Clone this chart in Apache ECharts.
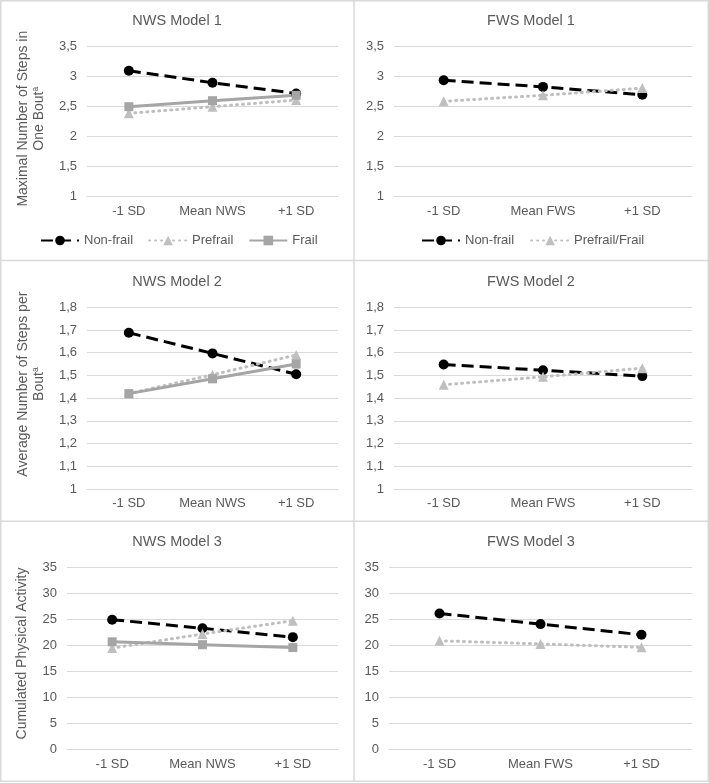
<!DOCTYPE html>
<html>
<head>
<meta charset="utf-8">
<script src="https://cdn.jsdelivr.net/npm/echarts@6/dist/echarts.min.js"></script>
<style>
html,body{margin:0;padding:0;background:#fff;}
#c{width:709px;height:783px;}
</style>
</head>
<body>
<div id="c"></div>
<script>
// ---- data ----
const categoriesNWS = ['-1 SD', 'Mean NWS', '+1 SD'];
const categoriesFWS = ['-1 SD', 'Mean FWS', '+1 SD'];
const panelTitles = ['NWS Model 1', 'FWS Model 1', 'NWS Model 2', 'FWS Model 2', 'NWS Model 3', 'FWS Model 3'];

const nws1NonFrail = [3.1, 2.9, 2.72];
const nws1Prefrail = [2.39, 2.5, 2.61];
const nws1Frail = [2.5, 2.6, 2.69];
const fws1NonFrail = [2.94, 2.83, 2.7];
const fws1PrefrailFrail = [2.59, 2.69, 2.81];

const nws2NonFrail = [1.688, 1.597, 1.505];
const nws2Prefrail = [1.42, 1.503, 1.59];
const nws2Frail = [1.42, 1.485, 1.55];
const fws2NonFrail = [1.548, 1.523, 1.497];
const fws2PrefrailFrail = [1.459, 1.494, 1.532];

const nws3NonFrail = [24.95, 23.3, 21.6];
const nws3Prefrail = [19.5, 22.2, 24.75];
const nws3Frail = [20.7, 20.15, 19.6];
const fws3NonFrail = [26.15, 24.1, 22.05];
const fws3PrefrailFrail = [20.9, 20.3, 19.65];

const yTicksModel1 = {min: 1, max: 3.5, interval: 0.5};
const yTicksModel2 = {min: 1, max: 1.8, interval: 0.1};
const yTicksModel3 = {min: 0, max: 35, interval: 5};

// ---- styles ----
const FONT = 'Liberation Sans, Arial, sans-serif';
const TXT = '#595959';
const GRIDC = '#d9d9d9';

const grids = [
  {left: 87, top: 46.7, width: 251, height: 150},
  {left: 394, top: 46.7, width: 298, height: 150},
  {left: 87, top: 307.3, width: 251, height: 181.7},
  {left: 394, top: 307.3, width: 298, height: 181.7},
  {left: 67, top: 567.3, width: 271, height: 182.4},
  {left: 389, top: 567.3, width: 303, height: 182.4}
];

const styleNonFrail = {
  color: '#000000', symbol: 'circle', symbolSize: 10,
  lineStyle: {color: '#000000', width: 3, type: [12, 6]}
};
const stylePrefrail = {
  color: '#bfbfbf', symbol: 'triangle', symbolSize: 10,
  lineStyle: {color: '#bfbfbf', width: 3, type: [1, 5], cap: 'round'}
};
const styleFrail = {
  color: '#a5a5a5', symbol: 'rect', symbolSize: 9,
  lineStyle: {color: '#a5a5a5', width: 3, type: 'solid'}
};

function fmt(v) {
  return String(+v.toFixed(1)).replace('.', ',');
}

const yNames = [
  'Maximal Number of Steps in\nOne Bout{sup|a}',
  '',
  'Average Number of Steps per\nBout{sup|a}',
  '',
  'Cumulated Physical Activity',
  ''
];
const yNamePad = [6, 0, 28, 0, 10, 0];
const yNameGap = [40, 0, 40, 0, 37, 0];
const yTicks = [yTicksModel1, yTicksModel1, yTicksModel2, yTicksModel2, yTicksModel3, yTicksModel3];

const xAxes = grids.map((g, i) => ({
  type: 'category', gridIndex: i,
  data: i % 2 === 0 ? categoriesNWS : categoriesFWS,
  boundaryGap: true,
  axisTick: {show: false},
  axisLine: {show: true, lineStyle: {color: GRIDC, width: 1}},
  axisLabel: {color: TXT, fontSize: 13, fontFamily: FONT, margin: 8, interval: 0, hideOverlap: false}
}));

const yAxes = grids.map((g, i) => ({
  type: 'value', gridIndex: i,
  min: yTicks[i].min, max: yTicks[i].max, interval: yTicks[i].interval,
  axisLine: {show: false}, axisTick: {show: false},
  splitLine: {show: true, lineStyle: {color: GRIDC, width: 1}},
  axisLabel: {color: TXT, fontSize: 13, fontFamily: FONT, margin: 10, formatter: fmt},
  name: yNames[i],
  nameLocation: 'middle',
  nameGap: yNameGap[i],
  nameTextStyle: {
    color: TXT, fontSize: 14, fontFamily: FONT, lineHeight: 16,
    padding: [0, 0, 0, yNamePad[i]],
    rich: {sup: {fontSize: 8.5, verticalAlign: 'top', lineHeight: 16, color: TXT, fontFamily: FONT}}
  }
}));

function mk(name, data, idx, st) {
  return Object.assign({
    name: name, type: 'line', data: data,
    xAxisIndex: idx, yAxisIndex: idx,
    showSymbol: true, animation: false
  }, JSON.parse(JSON.stringify(st)));
}

const series = [
  mk('Non-frail', nws1NonFrail, 0, styleNonFrail),
  mk('Prefrail', nws1Prefrail, 0, stylePrefrail),
  mk('Frail', nws1Frail, 0, styleFrail),
  mk('Non-frail', fws1NonFrail, 1, styleNonFrail),
  mk('Prefrail/Frail', fws1PrefrailFrail, 1, stylePrefrail),
  mk('Non-frail', nws2NonFrail, 2, styleNonFrail),
  mk('Prefrail', nws2Prefrail, 2, stylePrefrail),
  mk('Frail', nws2Frail, 2, styleFrail),
  mk('Non-frail', fws2NonFrail, 3, styleNonFrail),
  mk('Prefrail/Frail', fws2PrefrailFrail, 3, stylePrefrail),
  mk('Non-frail', nws3NonFrail, 4, styleNonFrail),
  mk('Prefrail', nws3Prefrail, 4, stylePrefrail),
  mk('Frail', nws3Frail, 4, styleFrail),
  mk('Non-frail', fws3NonFrail, 5, styleNonFrail),
  mk('Prefrail/Frail', fws3PrefrailFrail, 5, stylePrefrail)
];

const titleTops = [13, 13, 274, 274, 534, 534];
const titles = panelTitles.map((t, i) => ({
  text: t, left: i % 2 === 0 ? 177 : 531, top: titleTops[i], textAlign: 'center', padding: 0,
  textStyle: {color: TXT, fontSize: 14.5, fontWeight: 'normal', fontFamily: FONT}
}));

const legendText = {color: TXT, fontSize: 13, fontFamily: FONT};
const legends = [
  {data: ['Non-frail', 'Prefrail', 'Frail'], left: 40, top: 234, padding: 0,
   itemWidth: 38, itemHeight: 12, itemGap: 15, textStyle: legendText, selectedMode: false},
  {data: ['Non-frail', 'Prefrail/Frail'], left: 421, top: 234, padding: 0,
   itemWidth: 38, itemHeight: 12, itemGap: 16, textStyle: legendText, selectedMode: false}
];

const B = {stroke: GRIDC, lineWidth: 1.5};
const graphics = [
  {type: 'rect', shape: {x: 0.75, y: 0.75, width: 707.5, height: 780.5}, style: {fill: 'none', stroke: GRIDC, lineWidth: 1.5}, silent: true},
  {type: 'line', shape: {x1: 354, y1: 0, x2: 354, y2: 781}, style: B, silent: true},
  {type: 'line', shape: {x1: 0, y1: 260.5, x2: 709, y2: 260.5}, style: B, silent: true},
  {type: 'line', shape: {x1: 0, y1: 521.3, x2: 709, y2: 521.3}, style: B, silent: true}
];

const chart = echarts.init(document.getElementById('c'), null, {renderer: 'canvas'});
chart.setOption({
  backgroundColor: '#ffffff',
  animation: false,
  title: titles,
  legend: legends,
  grid: grids,
  xAxis: xAxes,
  yAxis: yAxes,
  series: series,
  graphic: graphics
});
</script>
</body>
</html>
